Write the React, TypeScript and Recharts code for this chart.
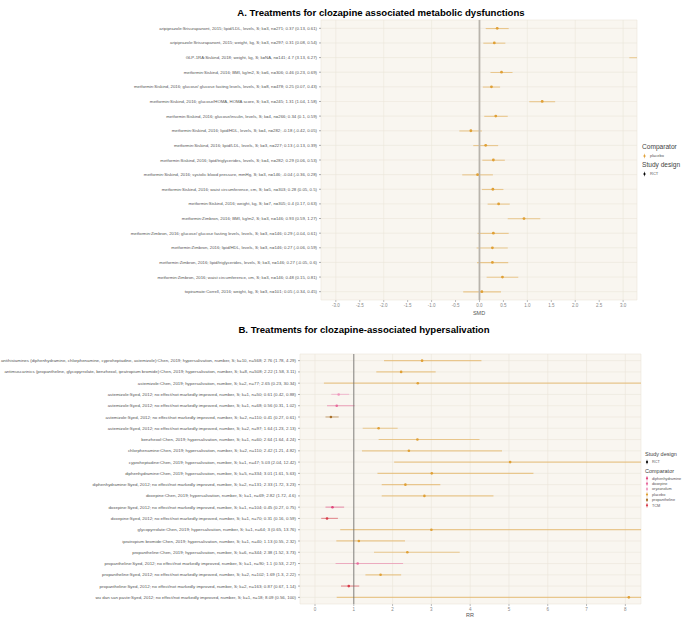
import React from 'react';
import { ComposedChart, Bar, Line, XAxis, YAxis, CartesianGrid, ReferenceLine, Cell } from 'recharts';

const FONT = 'Liberation Sans, Arial, sans-serif';

// ---------- Panel A data ----------
const aLabels = [
  'aripiprazole:Srisurapanont, 2015; lipid/LDL, levels, S; k=3, n=271; 0.37 (0.13, 0.61)',
  'aripiprazole:Srisurapanont, 2015; weight, kg, S; k=3, n=297; 0.31 (0.08, 0.54)',
  'GLP-1RA:Siskind, 2018; weight, kg, S; k=NA, n=141; 4.7 (3.13, 6.27)',
  'metformin:Siskind, 2016; BMI, kg/m2, S; k=6, n=306; 0.46 (0.23, 0.69)',
  'metformin:Siskind, 2016; glucose/ glucose fasting levels, levels, S; k=8, n=478; 0.25 (0.07, 0.43)',
  'metformin:Siskind, 2016; glucose/HOMA, HOMA score, S; k=3, n=245; 1.31 (1.04, 1.58)',
  'metformin:Siskind, 2016; glucose/insulin, levels, S; k=4, n=266; 0.34 (0.1, 0.59)',
  'metformin:Siskind, 2016; lipid/HDL, levels, S; k=4, n=282; -0.18 (-0.42, 0.05)',
  'metformin:Siskind, 2016; lipid/LDL, levels, S; k=3, n=227; 0.13 (-0.13, 0.39)',
  'metformin:Siskind, 2016; lipid/triglycerides, levels, S; k=4, n=282; 0.29 (0.06, 0.53)',
  'metformin:Siskind, 2016; systolic blood pressure, mmHg, S; k=3, n=146; -0.04 (-0.36, 0.28)',
  'metformin:Siskind, 2016; waist circumference, cm, S; k=5, n=303; 0.28 (0.05, 0.5)',
  'metformin:Siskind, 2016; weight, kg, S; k=7, n=305; 0.4 (0.17, 0.63)',
  'metformin:Zimbron, 2016; BMI, kg/m2, S; k=3, n=146; 0.93 (0.59, 1.27)',
  'metformin:Zimbron, 2016; glucose/ glucose fasting levels, levels, S; k=3, n=146; 0.29 (-0.04, 0.61)',
  'metformin:Zimbron, 2016; lipid/HDL, levels, S; k=3, n=146; 0.27 (-0.06, 0.59)',
  'metformin:Zimbron, 2016; lipid/triglycerides, levels, S; k=3, n=146; 0.27 (-0.05, 0.6)',
  'metformin:Zimbron, 2016; waist circumference, cm, S; k=3, n=146; 0.48 (0.15, 0.81)',
  'topiramate:Correll, 2016; weight, kg, S; k=3, n=101; 0.05 (-0.34, 0.45)',
];
const aEst = [0.37, 0.31, 4.7, 0.46, 0.25, 1.31, 0.34, -0.18, 0.13, 0.29, -0.04, 0.28, 0.4, 0.93, 0.29, 0.27, 0.27, 0.48, 0.05];
const aLo = [0.13, 0.08, 3.13, 0.23, 0.07, 1.04, 0.1, -0.42, -0.13, 0.06, -0.36, 0.05, 0.17, 0.59, -0.04, -0.06, -0.05, 0.15, -0.34];
const aHi = [0.61, 0.54, 6.27, 0.69, 0.43, 1.58, 0.59, 0.05, 0.39, 0.53, 0.28, 0.5, 0.63, 1.27, 0.61, 0.59, 0.6, 0.81, 0.45];
const aTicks = [-3, -2.5, -2, -1.5, -1, -0.5, 0, 0.5, 1, 1.5, 2, 2.5, 3];

// ---------- Panel B data ----------
const bLabels = [
  'antihistamines (diphenhydramine, chlorphenamine, cyproheptadine, astemizole):Chen, 2019; hypersalivation, number, S; k=10, n=568; 2.76 (1.78, 4.29)',
  'antimuscarinics (propantheline, glycopyrrolate, benzhexol, ipratropium bromide):Chen, 2019; hypersalivation, number, S; k=8, n=508; 2.22 (1.58, 3.11)',
  'astemizole:Chen, 2019; hypersalivation, number, S; k=2, n=77; 2.65 (0.23, 30.34)',
  'astemizole:Syed, 2012; no effect/not markedly improved, number, S; k=1, n=50; 0.61 (0.42, 0.88)',
  'astemizole:Syed, 2012; no effect/not markedly improved, number, S; k=1, n=68; 0.56 (0.31, 1.02)',
  'astemizole:Syed, 2012; no effect/not markedly improved, number, S; k=2, n=110; 0.41 (0.27, 0.61)',
  'astemizole:Syed, 2012; no effect/not markedly improved, number, S; k=2, n=97; 1.64 (1.23, 2.13)',
  'benzhexol:Chen, 2019; hypersalivation, number, S; k=1, n=60; 2.64 (1.64, 4.24)',
  'chlorphenamine:Chen, 2019; hypersalivation, number, S; k=2, n=110; 2.42 (1.21, 4.82)',
  'cyproheptadine:Chen, 2019; hypersalivation, number, S; k=1, n=47; 5.03 (2.04, 12.42)',
  'diphenhydramine:Chen, 2019; hypersalivation, number, S; k=5, n=334; 3.01 (1.61, 5.63)',
  'diphenhydramine:Syed, 2012; no effect/not markedly improved, number, S; k=2, n=131; 2.33 (1.72, 3.23)',
  'doxepine:Chen, 2019; hypersalivation, number, S; k=1, n=69; 2.82 (1.72, 4.6)',
  'doxepine:Syed, 2012; no effect/not markedly improved, number, S; k=1, n=104; 0.45 (0.27, 0.75)',
  'doxepine:Syed, 2012; no effect/not markedly improved, number, S; k=1, n=70; 0.31 (0.16, 0.59)',
  'glycopyrrolate:Chen, 2019; hypersalivation, number, S; k=1, n=64; 3 (0.65, 13.76)',
  'ipratropium bromide:Chen, 2019; hypersalivation, number, S; k=1, n=40; 1.13 (0.55, 2.32)',
  'propantheline:Chen, 2019; hypersalivation, number, S; k=6, n=344; 2.38 (1.52, 3.73)',
  'propantheline:Syed, 2012; no effect/not markedly improved, number, S; k=1, n=90; 1.1 (0.53, 2.27)',
  'propantheline:Syed, 2012; no effect/not markedly improved, number, S; k=2, n=102; 1.69 (1.3, 2.22)',
  'propantheline:Syed, 2012; no effect/not markedly improved, number, S; k=2, n=163; 0.87 (0.67, 1.14)',
  'wu dan san paste:Syed, 2012; no effect/not markedly improved, number, S; k=1, n=18; 8.09 (0.56, 100)',
];
const bEst = [2.76, 2.22, 2.65, 0.61, 0.56, 0.41, 1.64, 2.64, 2.42, 5.03, 3.01, 2.33, 2.82, 0.45, 0.31, 3, 1.13, 2.38, 1.1, 1.69, 0.87, 8.09];
const bLo = [1.78, 1.58, 0.23, 0.42, 0.31, 0.27, 1.23, 1.64, 1.21, 2.04, 1.61, 1.72, 1.72, 0.27, 0.16, 0.65, 0.55, 1.52, 0.53, 1.3, 0.67, 0.56];
const bHi = [4.29, 3.11, 30.34, 0.88, 1.02, 0.61, 2.13, 4.24, 4.82, 12.42, 5.63, 3.23, 4.6, 0.75, 0.59, 13.76, 2.32, 3.73, 2.27, 2.22, 1.14, 100];
const bComparator = [
  'placebo', 'placebo', 'placebo', 'oryzanolum', 'doxepine', 'propantheline', 'placebo', 'placebo', 'placebo', 'placebo', 'placebo',
  'placebo', 'placebo', 'diphenhydramine', 'TCM', 'placebo', 'placebo', 'placebo', 'doxepine', 'placebo', 'TCM', 'placebo',
];
const bTicks = [0, 1, 2, 3, 4, 5, 6, 7, 8];

const comparatorNames = ['diphenhydramine', 'doxepine', 'oryzanolum', 'placebo', 'propantheline', 'TCM'];
const comparatorColors: Record<string, string> = {
  diphenhydramine: '#e0457b',
  doxepine: '#e86a9c',
  oryzanolum: '#f096bd',
  placebo: '#e0a035',
  propantheline: '#a8702a',
  TCM: '#d83a48',
};

const aData = aLabels.map((label, i) => ({ label, est: aEst[i], ci: [aLo[i], aHi[i]], color: comparatorColors.placebo }));
const bData = bLabels.map((label, i) => ({ label, est: bEst[i], ci: [bLo[i], bHi[i]], color: comparatorColors[bComparator[i]] }));

const makeLabelTick = (fs: number) => (props: any) => {
  const { x, y, payload } = props;
  return (
    <text x={x} y={y} dy="0.35em" textAnchor="end" fontSize={fs} fill="#555" fontFamily={FONT}>
      {payload.value}
    </text>
  );
};

const makeDot = (r: number) => (props: any) => {
  const { cx, cy, payload, index } = props;
  if (cx == null || cy == null) return <g key={`d-${index}`} />;
  return <circle key={`d-${index}`} cx={cx} cy={cy} r={r} fill={payload.color} />;
};

const Glyph = ({ x, y, color }: { x: number; y: number; color: string }) => (
  <g>
    <line x1={x} x2={x} y1={y - 2.2} y2={y + 2.2} stroke={color} strokeWidth={0.6} />
    <circle cx={x} cy={y} r={1.1} fill={color} />
  </g>
);

export default function App() {
  return (
    <div style={{ position: 'absolute', left: 0, top: 0, width: 686, height: 618, background: '#fff', fontFamily: FONT }}>
      <div style={{ position: 'absolute', left: 0, top: 0 }}>
        <ComposedChart width={686} height={320} data={aData} layout="vertical" margin={{ top: 20, right: 49, bottom: 0, left: 0 }}>
          <CartesianGrid fill="#f9f6f0" stroke="#ebe5da" strokeWidth={0.6} />
          <XAxis type="number" domain={[-3.31, 3.29]} ticks={aTicks} allowDataOverflow tickFormatter={(v: number) => v.toFixed(1)}
            tick={{ fontSize: 4.5, fill: '#888', fontFamily: FONT }} tickLine={{ stroke: '#bbb' }} tickSize={2} axisLine={false} height={20} />
          <YAxis type="category" dataKey="label" width={321} interval={0} tick={makeLabelTick(4.3)} tickLine={{ stroke: '#aaa' }} tickSize={2}
            axisLine={false} padding={{ top: 1, bottom: 1 }} />
          <ReferenceLine x={0} stroke="#b9b4ac" strokeWidth={1.8} />
          <Bar dataKey="ci" barSize={1.1} isAnimationActive={false}>
            {aData.map((d, i) => <Cell key={i} fill={d.color} fillOpacity={0.5} />)}
          </Bar>
          <Line dataKey="est" stroke="transparent" strokeWidth={0} isAnimationActive={false} dot={makeDot(1.4)} activeDot={false} />
        </ComposedChart>
      </div>
      <div style={{ position: 'absolute', left: 0, top: 340 }}>
        <ComposedChart width={686} height={278} data={bData} layout="vertical" margin={{ top: 14, right: 45, bottom: 0, left: 0 }}>
          <CartesianGrid fill="#f9f6f0" stroke="#ebe5da" strokeWidth={0.6} />
          <XAxis type="number" domain={[-0.387, 8.404]} ticks={bTicks} allowDataOverflow
            tick={{ fontSize: 4.5, fill: '#888', fontFamily: FONT }} tickLine={{ stroke: '#bbb' }} tickSize={2} axisLine={false} height={14} />
          <YAxis type="category" dataKey="label" width={300} interval={0} tick={makeLabelTick(4.4)} tickLine={{ stroke: '#aaa' }} tickSize={2}
            axisLine={false} padding={{ top: 1, bottom: 1 }} />
          <ReferenceLine x={1} stroke="#666" strokeWidth={0.8} />
          <Bar dataKey="ci" barSize={1.2} isAnimationActive={false}>
            {bData.map((d, i) => <Cell key={i} fill={d.color} fillOpacity={0.5} />)}
          </Bar>
          <Line dataKey="est" stroke="transparent" strokeWidth={0} isAnimationActive={false} dot={makeDot(1.3)} activeDot={false} />
        </ComposedChart>
      </div>
      <svg width={686} height={618} style={{ position: 'absolute', left: 0, top: 0, pointerEvents: 'none' }} fontFamily={FONT}>
        <text x={381} y={13} dy="0.35em" textAnchor="middle" fontSize={9.6} fontWeight="bold" fill="#000">
          A. Treatments for clozapine associated metabolic dysfunctions
        </text>
        <text x={364} y={330} dy="0.35em" textAnchor="middle" fontSize={9.6} fontWeight="bold" fill="#000">
          B. Treatments for clozapine-associated hypersalivation
        </text>
        <text x={479} y={313} dy="0.35em" textAnchor="middle" fontSize={5.5} fill="#555">SMD</text>
        <text x={470} y={615} dy="0.35em" textAnchor="middle" fontSize={5.5} fill="#555">RR</text>

        {/* Legend A */}
        <text x={642} y={147} dy="0.35em" fontSize={6.6} fill="#444">Comparator</text>
        <Glyph x={644.5} y={156} color={comparatorColors.placebo} />
        <text x={650} y={156} dy="0.35em" fontSize={4} fill="#555">placebo</text>
        <text x={642} y={165} dy="0.35em" fontSize={6.6} fill="#444">Study design</text>
        <Glyph x={644.5} y={174} color="#000" />
        <text x={650} y={174} dy="0.35em" fontSize={4} fill="#555">RCT</text>

        {/* Legend B */}
        <text x={645} y={454} dy="0.35em" fontSize={5.5} fill="#444">Study design</text>
        <Glyph x={647} y={462} color="#000" />
        <text x={652} y={462} dy="0.35em" fontSize={3.8} fill="#555">RCT</text>
        <text x={645} y={471} dy="0.35em" fontSize={5.5} fill="#444">Comparator</text>
        {comparatorNames.map((n, i) => (
          <g key={n}>
            <Glyph x={647} y={478.3 + i * 5.4} color={comparatorColors[n]} />
            <text x={652} y={478.3 + i * 5.4} dy="0.35em" fontSize={3.8} fill="#555">{n}</text>
          </g>
        ))}
      </svg>
    </div>
  );
}
